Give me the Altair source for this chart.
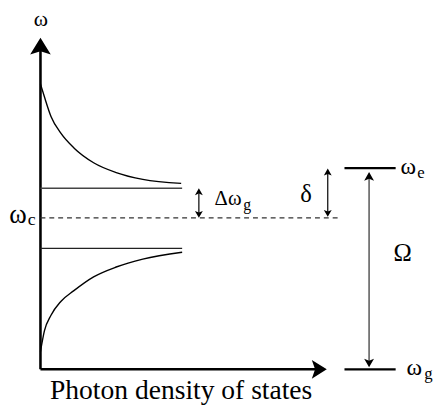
import altair as alt
import pandas as pd

# ---- data (x: photon density of states, y: frequency) ----
upper_dos = [0, 0.4, 1.07, 2.07, 3.4, 5.4, 7.7, 10.4, 14.3]
upper_w = [13.6, 12.3, 10.3, 8.6, 7.1, 5.6, 4.6, 3.9, 3.5]
lower_dos = [0, 0.4, 1.07, 2.07, 3.4, 5.4, 7.7, 10.4, 14.4]
lower_w = [-13.6, -11.5, -9.9, -8.5, -7.4, -6.0, -5.0, -4.2, -3.5]

W_C = 0.0          # cavity / gap centre
EDGE_UP = 3.0      # upper band edge
EDGE_LO = -3.1     # lower band edge
W_E = 5.05         # excited atomic level
W_G = -15.4        # ground atomic level
DOS_END = 14.4     # extent of band-edge lines
AXIS_X_END = 28.15
AXIS_Y_END = 17.25
DASH_END = 30.2
GAP_ARROW_X = 16.1
DELTA_ARROW_X = 29.2
LEVEL_X0, LEVEL_X1 = 30.9, 36.1
OMEGA_ARROW_X = 33.4

FONT = "Liberation Serif, Times New Roman, serif"

xs = alt.Scale(domain=[-3.3, 40.1], nice=False, zero=False)
ys = alt.Scale(domain=[-18.7, 21.0], nice=False, zero=False)


def X(f="x"):
    return alt.X(f, type="quantitative", scale=xs, axis=None)


def Y(f="y"):
    return alt.Y(f, type="quantitative", scale=ys, axis=None)


def rule(rows, **style):
    df = pd.DataFrame(rows, columns=["x", "x2", "y", "y2"])
    return alt.Chart(df).mark_rule(**style).encode(
        x=X("x"), x2="x2", y=Y("y"), y2="y2")


def curve(xv, yv):
    df = pd.DataFrame({"x": xv, "y": yv})
    return alt.Chart(df).mark_line(interpolate="monotone", color="black",
                                   strokeWidth=1.4).encode(
        x=X("x"), y=Y("y"), order=alt.Order("x:Q"))


UP = "M0,-1 L1,0.75 L0,0.35 L-1,0.75 Z"
DOWN = "M0,1 L1,-0.75 L0,-0.35 L-1,-0.75 Z"
BIG_UP = "M0,-1 L1,0.62 L0,0.3 L-1,0.62 Z"
BIG_RIGHT = "M1,0 L-0.6,1 L-0.25,0 L-0.6,-1 Z"


def head(xv, yv, shape, size, color="black"):
    df = pd.DataFrame({"x": [xv], "y": [yv]})
    return alt.Chart(df).mark_point(shape=shape, size=size, filled=True,
                                    color=color, opacity=1, strokeWidth=0).encode(
        x=X("x"), y=Y("y"))


def label(txt, xv, yv, size, align="left"):
    df = pd.DataFrame({"x": [xv], "y": [yv], "t": [txt]})
    return alt.Chart(df).mark_text(font=FONT, fontSize=size,
                                   align=align, baseline="alphabetic",
                                   color="black").encode(
        x=X("x"), y=Y("y"), text="t:N")


layers = [
    # axes
    rule([[0, 0, W_G, AXIS_Y_END]], color="black", strokeWidth=2.6),
    rule([[0, AXIS_X_END, W_G, W_G]], color="black", strokeWidth=2.6),
    head(0, AXIS_Y_END, BIG_UP, 441),
    head(AXIS_X_END, W_G, BIG_RIGHT, 361),
    # band edges
    rule([[0, DOS_END, EDGE_UP, EDGE_UP]], color="#444", strokeWidth=1.6),
    rule([[0, DOS_END, EDGE_LO, EDGE_LO]], color="#222", strokeWidth=1.4),
    curve(upper_dos, upper_w),
    curve(lower_dos, lower_w),
    # dashed centre line
    rule([[0, DASH_END, W_C, W_C]], color="#333", strokeWidth=1.2,
         strokeDash=[5, 4]),
    # gap arrow
    rule([[GAP_ARROW_X, GAP_ARROW_X, W_C + 0.5, EDGE_UP - 0.5]], color="black",
         strokeWidth=1.2),
    head(GAP_ARROW_X, EDGE_UP - 0.4, UP, 64),
    head(GAP_ARROW_X, W_C + 0.4, DOWN, 64),
    # detuning arrow
    rule([[DELTA_ARROW_X, DELTA_ARROW_X, W_C + 0.5, W_E - 0.5]], color="black",
         strokeWidth=1.2),
    head(DELTA_ARROW_X, W_E - 0.45, UP, 64),
    head(DELTA_ARROW_X, W_C + 0.5, DOWN, 64),
    # atomic levels
    rule([[LEVEL_X0, LEVEL_X1, W_E, W_E]], color="black", strokeWidth=2.4),
    rule([[LEVEL_X0, LEVEL_X1, W_G, W_G]], color="black", strokeWidth=2.4),
    # Omega arrow
    rule([[OMEGA_ARROW_X, OMEGA_ARROW_X, W_G + 0.6, W_E - 0.8]], color="#555",
         strokeWidth=1.5),
    head(OMEGA_ARROW_X, W_E - 0.9, UP, 100),
    head(OMEGA_ARROW_X, W_G + 0.7, DOWN, 100),
    # labels
    label("ω", 0.05, 19.5, 22, "center"),
    label("ω", -1.4, -0.5, 27, "right"),
    label("c", -1.3, -0.75, 18),
    label("Δω", 17.7, 1.3, 21),
    label("g", 20.6, 0.8, 16),
    label("δ", 27.0, 1.6, 25, "center"),
    label("ω", 36.6, 4.5, 24),
    label("e", 38.3, 4.0, 17),
    label("ω", 37.2, -16.0, 24),
    label("g", 39.0, -16.4, 17),
    label("Ω", 36.8, -4.4, 25, "center"),
    label("Photon density of states", 14.3, -18.4, 28, "center"),
]

chart = alt.layer(*layers).properties(
    width=434, height=397,
    autosize=alt.AutoSizeParams(type="none"),
    padding=0,
    background="white",
).configure_view(strokeWidth=0)

chart.save("out.html", embed_options={"renderer": "svg", "actions": False})
